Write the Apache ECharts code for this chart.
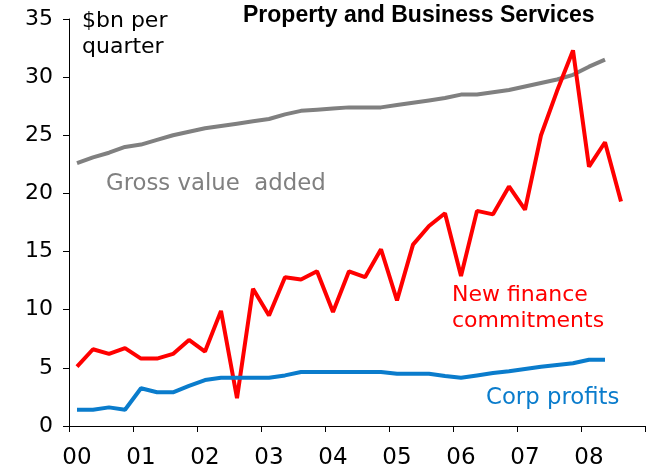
<!DOCTYPE html>
<html lang="en">
<head>
    <meta charset="UTF-8">
    <title>Property and Business Services</title>
    <script src="https://cdn.jsdelivr.net/npm/echarts@6/dist/echarts.min.js"></script>
    <style>
        html, body {
            margin: 0;
            padding: 0;
            background: #fff;
        }
    </style>
</head>
<body>
<div id="main" style="width: 646px; height: 470px;"></div>
<script type="application/javascript">
    // quarters 2000Q1 .. 2008Q4
    var years = ['00', '01', '02', '03', '04', '05', '06', '07', '08'];
    var quarters = [];
    years.forEach(function (y) {
        for (var q = 1; q <= 4; q++) quarters.push(y + 'Q' + q);
    });

    // $bn per quarter
    var grossValueAdded = [22.6, 23.1, 23.5, 24.0, 24.2, 24.6, 25.0, 25.3, 25.6, 25.8, 26.0, 26.2,
        26.4, 26.8, 27.1, 27.2, 27.3, 27.4, 27.4, 27.4, 27.6, 27.8, 28.0, 28.2,
        28.5, 28.5, 28.7, 28.9, 29.2, 29.5, 29.8, 30.2, 30.9, 31.5];
    var newFinance = [5.1, 6.6, 6.2, 6.7, 5.8, 5.8, 6.2, 7.4, 6.4, 9.9, 2.4, 11.8,
        9.5, 12.8, 12.6, 13.3, 9.8, 13.3, 12.8, 15.2, 10.8, 15.6, 17.2, 18.3,
        12.9, 18.5, 18.2, 20.6, 18.6, 25.0, 28.8, 32.3, 22.3, 24.4, 19.3];
    var corpProfits = [1.4, 1.4, 1.6, 1.4, 3.25, 2.9, 2.9, 3.45, 3.95, 4.15, 4.15, 4.15,
        4.15, 4.35, 4.65, 4.65, 4.65, 4.65, 4.65, 4.65, 4.5, 4.5, 4.5, 4.3,
        4.15, 4.35, 4.55, 4.7, 4.9, 5.1, 5.25, 5.4, 5.7, 5.7];

    var myChart = echarts.init(document.getElementById('main'));
    var font = 'DejaVu Sans';

    var option = {
        animation: false,
        grid: {left: 69, right: 1, top: 19, bottom: 44},
        graphic: [
            {type: 'text', left: 243, top: 4, style: {text: 'Property and Business Services', font: 'bold 23px "Liberation Sans"', fill: '#000'}},
            {type: 'text', left: 82, top: 8, style: {text: '$bn per\nquarter', font: '22px ' + font, lineHeight: 26, fill: '#000'}},
            {type: 'text', left: 106, top: 173, style: {text: 'Gross value  added', font: '22.8px ' + font, fill: '#808080'}},
            {type: 'text', left: 452, top: 282, style: {text: 'New finance\ncommitments', font: '22px ' + font, lineHeight: 26, fill: '#ff0000'}},
            {type: 'text', left: 486, top: 387, style: {text: 'Corp profits', font: '22.8px ' + font, fill: '#0a7ccc'}}
        ],
        xAxis: {
            type: 'category',
            data: quarters,
            boundaryGap: true,
            axisLine: {lineStyle: {color: '#000', width: 1}},
            axisTick: {show: true, interval: 3, length: 6, lineStyle: {color: '#000', width: 1}},
            axisLabel: {
                interval: 3,
                margin: 21,
                color: '#000',
                fontFamily: font,
                fontSize: 23,
                formatter: function (v) { return v.slice(0, 2); }
            },
            splitLine: {show: false}
        },
        yAxis: {
            type: 'value',
            min: 0,
            max: 35,
            interval: 5,
            axisLine: {show: true, lineStyle: {color: '#000', width: 1}},
            axisTick: {show: true, length: 6, lineStyle: {color: '#000'}},
            axisLabel: {margin: 16, color: '#000', fontFamily: font, fontSize: 22},
            splitLine: {show: false}
        },
        series: [
            {
                name: 'Gross value added', type: 'line', data: grossValueAdded,
                symbol: 'none', lineStyle: {color: '#808080', width: 4}
            },
            {
                name: 'New finance commitments', type: 'line', data: newFinance,
                symbol: 'none', lineStyle: {color: '#ff0000', width: 4}
            },
            {
                name: 'Corp profits', type: 'line', data: corpProfits,
                symbol: 'none', lineStyle: {color: '#0a7ccc', width: 4}
            }
        ]
    };

    myChart.setOption(option);
</script>
</body>
</html>
